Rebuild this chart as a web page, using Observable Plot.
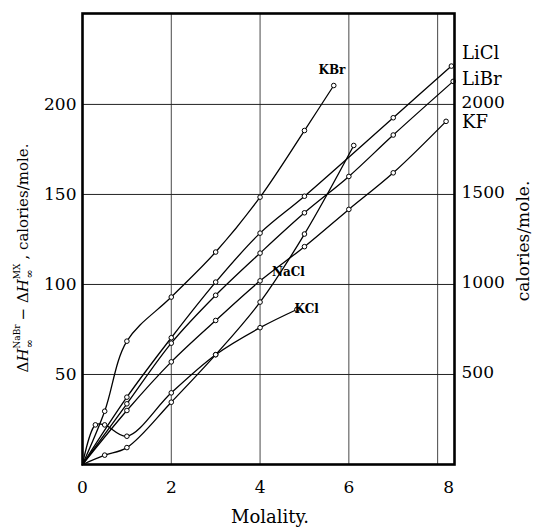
<!DOCTYPE html>
<html><head><meta charset="utf-8">
<script src="https://cdn.jsdelivr.net/npm/d3@7"></script>
<script src="https://cdn.jsdelivr.net/npm/@observablehq/plot@0.6"></script>
<style>body{margin:0;background:#fff} #chart{width:534px;height:528px}</style>
</head><body><div id="chart"></div>
<script>
// Axis ticks
const xTicks = [0, 2, 4, 6, 8];
const yTicks = [50, 100, 150, 200];

// Series (molality, ΔH difference in cal/mole /10)
const liclM = [0, 1, 2, 3, 4, 5, 7, 8.31];
const liclV = [0, 37.4, 70.4, 101.3, 128.5, 149, 192.6, 221.3];
const librM = [0, 1, 2, 3, 4, 5, 6, 7, 8.35];
const librV = [0, 33.7, 67.4, 94, 117.4, 139.8, 160, 183, 212.8];
const kfM = [0, 1, 2, 3, 4, 5, 6, 7, 8.19];
const kfV = [0, 30, 57, 80, 102, 121, 141.7, 162, 190.6];
const naclM = [0, 0.5, 1, 2, 3, 4, 5, 6.11];
const naclV = [0, 5.2, 9.4, 34.6, 61, 90.2, 128, 177.2];
const kclM = [0, 0.29, 0.5, 1, 2, 3, 4, 4.83];
const kclV = [0, 22, 22, 15.7, 39.8, 61, 76, 86.1];
const kbrM = [0, 0.5, 1, 2, 3, 4, 5, 5.66];
const kbrV = [0, 29.6, 68.5, 93, 118, 148.5, 185.5, 210.5];

const series = [
  ["LiCl", liclM, liclV], ["LiBr", librM, librV], ["KF", kfM, kfV],
  ["NaCl", naclM, naclV], ["KCl", kclM, kclV], ["KBr", kbrM, kbrV]
];
const rows = series.flatMap(([salt, ms, vs]) => ms.map((m, i) => ({salt, m, v: vs[i]})));

// Curve labels inside the plot
const inLabels = ["KBr", "NaCl", "KCl"];
const inLabelM = [5.62, 4.64, 5.05];
const inLabelV = [218.9, 106.8, 86.3];
// Curve labels in the right margin
const outLabels = ["LiCl", "LiBr", "KF"];
const outLabelM = [8.55, 8.55, 8.55];
const outLabelV = [228.3, 213.9, 190.3];

const serif = "'DejaVu Serif', 'Liberation Serif', serif";

const plot = Plot.plot({
  width: 534, height: 528,
  marginLeft: 82, marginRight: 80, marginTop: 13, marginBottom: 64,
  style: {fontFamily: serif, fontSize: "17px", background: "#fff", color: "#000", overflow: "visible"},
  x: {domain: [0, 8.38]},
  y: {domain: [0, 250.5]},
  marks: [
    Plot.ruleX(xTicks.filter(d => d > 0), {stroke: "#333", strokeWidth: 0.9}),
    Plot.ruleY(yTicks, {stroke: "#222", strokeWidth: 1}),
    Plot.line(rows, {x: "m", y: "v", z: "salt", curve: "catmull-rom", stroke: "#000", strokeWidth: 1.3}),
    Plot.dot(rows.filter(d => d.m > 0), {x: "m", y: "v", r: 2.3, stroke: "#000", fill: "#fff", strokeWidth: 1}),
    Plot.frame({stroke: "#000", strokeWidth: 2.6}),
    Plot.axisX({ticks: xTicks.filter(d => d < 8), tickSize: 0, tickPadding: 16, label: null, fontSize: 17}),
    Plot.axisX({ticks: xTicks.filter(d => d >= 8), tickSize: 0, tickPadding: 16, label: null, fontSize: 17, dx: 11}),
    Plot.axisY({anchor: "left", ticks: yTicks, tickSize: 0, tickPadding: 6, label: null, fontSize: 17}),
    Plot.axisY({anchor: "right", ticks: yTicks, tickSize: 0, tickPadding: 7, label: null, fontSize: 17, dy: -2, tickFormat: d => String(d * 10)}),
    Plot.text(inLabels, {x: (d, i) => inLabelM[i], y: (d, i) => inLabelV[i], text: d => d, textAnchor: (d) => d === "KBr" ? "middle" : "start", fontSize: 12, fontWeight: "bold", fill: "#000"}),
    Plot.text(outLabels, {x: (d, i) => outLabelM[i], y: (d, i) => outLabelV[i], text: d => d, textAnchor: "start", fontSize: 18, fill: "#000"})
  ]
});
document.getElementById("chart").appendChild(plot);

const svg = d3.select(plot);
// x axis title
svg.append("text").attr("x", 270).attr("y", 523).attr("text-anchor", "middle")
  .attr("font-size", 18).attr("font-family", serif).text("Molality.");
// right axis title
svg.append("text").attr("transform", "translate(529,241) rotate(-90)").attr("text-anchor", "middle")
  .attr("font-size", 17).attr("font-family", serif).text("calories/mole.");
// left axis title with sub/superscripts
const t = svg.append("text").attr("transform", "translate(28,258) rotate(-90)").attr("text-anchor", "middle")
  .attr("font-size", 15).attr("font-family", serif);
t.append("tspan").text("Δ");
t.append("tspan").attr("font-style", "italic").text("H");
t.append("tspan").attr("font-size", 9).attr("dy", -8).text("NaBr");
t.append("tspan").attr("font-size", 11).attr("dx", -24).attr("dy", 13).text("∞");
t.append("tspan").attr("dx", 14).attr("dy", -5).text(" − Δ");
t.append("tspan").attr("font-style", "italic").text("H");
t.append("tspan").attr("font-size", 9).attr("dy", -8).text("MX");
t.append("tspan").attr("font-size", 11).attr("dx", -15).attr("dy", 13).text("∞");
t.append("tspan").attr("dx", 5).attr("dy", -5).text(" , calories/mole.");
</script>
</body></html>
